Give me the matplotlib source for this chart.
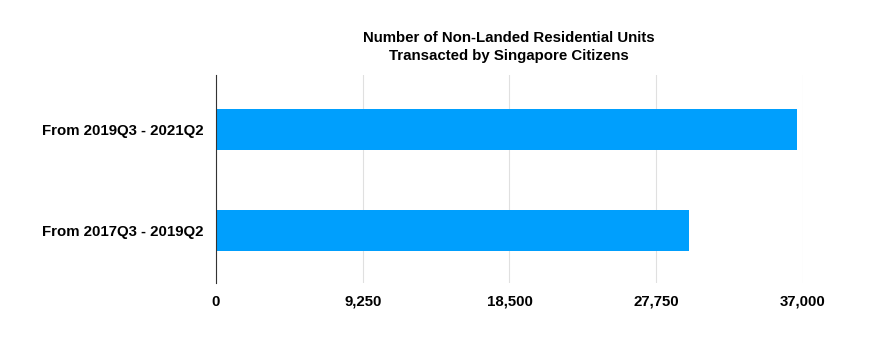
import matplotlib
matplotlib.use("Agg")
import matplotlib.pyplot as plt
from matplotlib.ticker import FuncFormatter

categories = ["From 2017Q3 - 2019Q2", "From 2019Q3 - 2021Q2"]
values = [29800, 36600]
xticks = [0, 9250, 18500, 27750, 37000]

plt.rcParams['font.family'] = ['Liberation Sans', 'DejaVu Sans']

fig = plt.figure(figsize=(8.92, 3.59), dpi=100)
ax = fig.add_axes([216/892, 1-283/359, (803-216)/892, (283-75)/359])
ax.barh(range(len(categories)), values, height=0.4, color='#009ffd', zorder=3)
ax.set_yticks(range(len(categories)))
ax.set_yticklabels(categories, fontsize=10.8, fontweight='bold')
ax.set_xticks(xticks)
ax.xaxis.set_major_formatter(FuncFormatter(lambda v, p: f"{int(v):,}"))
for lbl in ax.get_xticklabels():
    lbl.set_fontweight('bold')
    lbl.set_fontsize(10.8)
ax.set_xlim(0, 37000)
ax.set_ylim(-0.52, 1.54)
ax.tick_params(axis='both', length=0)
ax.tick_params(axis='x', pad=8.5)
ax.tick_params(axis='y', pad=9)
ax.grid(axis='x', color='#e0e0e0', linewidth=0.8, zorder=0)
for s in ['top', 'right', 'bottom']:
    ax.spines[s].set_visible(False)
ax.spines['left'].set_color('#333333')
ax.spines['left'].set_linewidth(0.8)
ax.spines['left'].set_zorder(4)
fig.text(509/892, 1-47/359, "Number of Non-Landed Residential Units\nTransacted by Singapore Citizens",
         ha='center', va='center', fontsize=10.8, fontweight='bold', linespacing=1.3)
fig.savefig("out.png", dpi=100)
